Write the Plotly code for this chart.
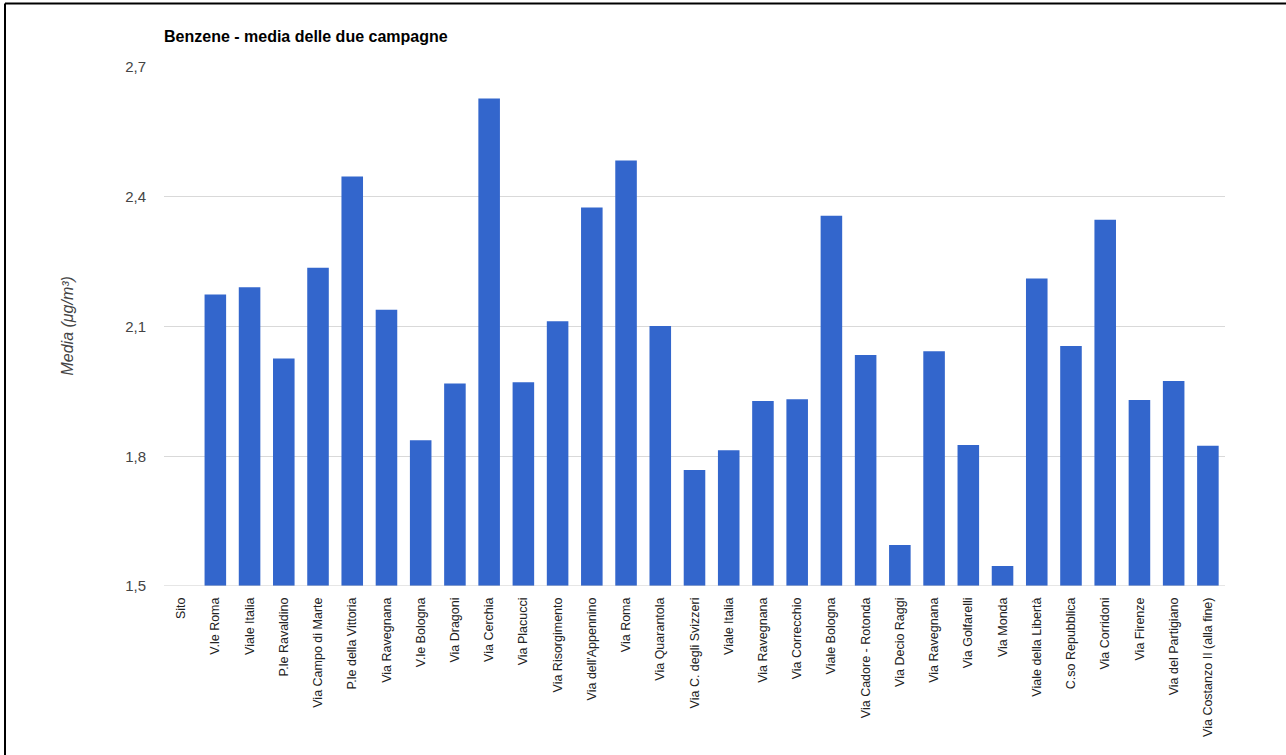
import plotly.graph_objects as go

# Sampling sites (first slot is the empty "Sito" header column)
sites = [
    "Sito", "V.le Roma", "Viale Italia", "P.le Ravaldino", "Via Campo di Marte",
    "P.le della Vittoria", "Via Ravegnana", "V.le Bologna", "Via Dragoni",
    "Via Cerchia", "Via Placucci", "Via Risorgimento", "Via dell'Appennino",
    "Via Roma", "Via Quarantola", "Via C. degli Svizzeri", "Viale Italia",
    "Via Ravegnana", "Via Correcchio", "Viale Bologna", "Via Cadore - Rotonda",
    "Via Decio Raggi", "Via Ravegnana", "Via Golfarelli", "Via Monda",
    "Viale della Libertà", "C.so Repubblica", "Via Corridoni", "Via Firenze",
    "Via del Partigiano", "Via Costanzo II (alla fine)",
]

# Benzene mean of the two campaigns (µg/m³)
benzene_mean = [
    None, 2.174, 2.191, 2.026, 2.236,
    2.447, 2.139, 1.837, 1.968,
    2.627, 1.971, 2.112, 2.375,
    2.484, 2.101, 1.768, 1.814,
    1.928, 1.932, 2.356, 2.034,
    1.595, 2.043, 1.826, 1.546,
    2.211, 2.055, 2.347, 1.930,
    1.974, 1.824,
]

y_ticks = [1.5, 1.8, 2.1, 2.4, 2.7]

positions = list(range(len(sites)))

W, H = 1286, 755
ML, MR, MT, MB = 164, 61, 67, 169
PW, PH = W - ML - MR, H - MT - MB

font_family = "Arial, Liberation Sans, sans-serif"

fig = go.Figure(
    go.Bar(
        x=positions,
        y=benzene_mean,
        marker=dict(color="#3366CC", line=dict(width=0)),
        customdata=sites,
        hovertemplate="%{customdata}: %{y:.2f}<extra></extra>",
    )
)

fig.update_layout(
    width=W,
    height=H,
    margin=dict(l=ML, r=MR, t=MT, b=MB, autoexpand=False),
    paper_bgcolor="white",
    plot_bgcolor="white",
    separators=",.",
    bargap=0.37,
    showlegend=False,
    font=dict(family=font_family, color="#444444"),
    title=dict(
        text="<b>Benzene - media delle due campagne</b>",
        font=dict(family=font_family, size=16, color="#000000"),
        xref="paper", x=0, xanchor="left",
        yref="container", y=1 - 36 / H, yanchor="middle",
    ),
    xaxis=dict(
        tickmode="array",
        tickvals=positions,
        ticktext=sites,
        tickangle=-90,
        range=[-0.5, len(sites) - 0.5],
        showgrid=False,
        zeroline=False,
        showline=False,
        ticks="",
        ticklabelstandoff=8,
        tickfont=dict(family=font_family, size=12.5, color="#222222"),
    ),
    yaxis=dict(
        range=[1.5, 2.7],
        tickmode="array",
        tickvals=y_ticks,
        ticktext=[f"{t:.1f}".replace(".", ",") for t in y_ticks],
        showgrid=True,
        gridcolor="#D9D9D9",
        gridwidth=1,
        zeroline=False,
        showline=False,
        ticks="",
        ticklabelstandoff=17,
        tickfont=dict(family=font_family, size=15, color="#444444"),
    ),
    annotations=[
        dict(
            text="<i>Media (μg/m³)</i>",
            textangle=-90,
            xref="paper", yref="paper",
            x=(67 - ML) / PW, y=0.5,
            xanchor="center", yanchor="middle",
            showarrow=False,
            font=dict(family=font_family, size=16, color="#444444"),
        )
    ],
)

# Baseline along the axis floor
fig.add_shape(type="line", xref="paper", yref="y",
              x0=0, x1=1, y0=1.5, y1=1.5,
              line=dict(color="#CCCCCC", width=1), layer="above")

# Frame lines along the top and left of the page
left_x = (5 - ML) / PW
top_y = 1 + (MT - 3.5) / PH
bottom_y = -(MB + 5) / PH
right_x = (W - ML + 5) / PW
fig.add_shape(type="line", xref="paper", yref="paper",
              x0=left_x, x1=left_x, y0=bottom_y, y1=top_y,
              line=dict(color="#000000", width=2))
fig.add_shape(type="line", xref="paper", yref="paper",
              x0=left_x, x1=right_x, y0=top_y, y1=top_y,
              line=dict(color="#000000", width=2))

fig.write_html("out.html")
